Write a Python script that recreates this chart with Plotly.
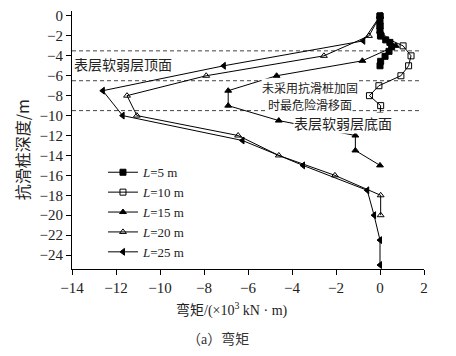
import plotly.graph_objects as go

# Depth (m) and bending moment (x10^3 kN·m) for each pile length
L5_depth = [0, -0.5, -1, -1.5, -2, -2.4, -2.65, -3.1, -3.55, -4.05, -4.55, -5]
L5_moment = [0, 0, 0, 0, 0.02, 0.26, 0.45, 0.53, 0.41, 0.23, 0.03, 0]

L10_depth = [0, -1, -2, -3, -4, -5, -6, -7, -8, -9, -10]
L10_moment = [0, 0, 0.05, 1.05, 1.41, 1.3, 0.95, -0.05, -0.48, 0.03, 0]

L15_depth = [0, -1.5, -3, -4.5, -6, -7.5, -9, -10.5, -12, -13.5, -15]
L15_moment = [0, 0, 0.72, -0.8, -4.7, -6.9, -6.9, -4.6, -1.12, -1.12, 0]

L20_depth = [0, -2, -4, -6, -8, -10, -12, -14, -16, -18, -20]
L20_moment = [0, -0.5, -2.55, -7.9, -11.5, -11.05, -6.45, -4.6, -2.05, 0.03, 0.03]

L25_depth = [0, -2.5, -5, -7.5, -10, -12.5, -15, -17.5, -20, -22.5, -25]
L25_moment = [0, -0.76, -7.1, -12.6, -11.7, -6.25, -3.5, -0.58, -0.27, 0, 0]

series_names = ["<i>L</i>=5 m", "<i>L</i>=10 m", "<i>L</i>=15 m", "<i>L</i>=20 m", "<i>L</i>=25 m"]
series_symbols = ["square", "square-open", "triangle-up", "triangle-up-open", "triangle-left"]

layer_depths = [-3.5, -6.5, -9.5]

x_ticks = [-14, -12, -10, -8, -6, -4, -2, 0, 2]
y_ticks = [0, -2, -4, -6, -8, -10, -12, -14, -16, -18, -20, -22, -24]

SERIF = "Liberation Serif, Times New Roman, serif"
CJK = "Noto Sans CJK SC"

fig = go.Figure()

# dashed layer boundaries
for d in layer_depths:
    fig.add_trace(go.Scatter(
        x=[-14, 1.9], y=[d, d], mode="lines",
        line=dict(color="#444", width=1, dash="4px,3px"),
        showlegend=False, hoverinfo="skip"))

data = [(L5_moment, L5_depth), (L10_moment, L10_depth), (L15_moment, L15_depth),
        (L20_moment, L20_depth), (L25_moment, L25_depth)]
for (xm, yd), name, sym in zip(data, series_names, series_symbols):
    fig.add_trace(go.Scatter(
        x=xm, y=yd, mode="lines+markers", name=name,
        line=dict(color="black", width=1),
        marker=dict(symbol=sym, size=6, color="black",
                    line=dict(color="black", width=1)),
    ))

annos = [
    dict(x=-13.95, y=-4.8, text="表层软弱层顶面", xanchor="left", size=14),
    dict(x=-3.2, y=-7.2, text="未采用抗滑桩加固", xanchor="center", size=12),
    dict(x=-3.2, y=-8.85, text="时最危险滑移面", xanchor="center", size=12),
    dict(x=-1.68, y=-10.75, text="表层软弱层底面", xanchor="center", size=14),
]
for a in annos:
    fig.add_annotation(x=a["x"], y=a["y"], xref="x", yref="y", text=a["text"],
                       xanchor=a["xanchor"], yanchor="middle", showarrow=False,
                       bgcolor="white", borderpad=0,
                       font=dict(family=CJK, size=a["size"], color="#222"))

# axis titles and caption
fig.add_annotation(x=-0.142, y=0.46, xref="paper", yref="paper",
                   text="抗滑桩深度/m", textangle=-90, showarrow=False,
                   xanchor="center", yanchor="middle",
                   font=dict(family=CJK, size=16, color="#222"))
fig.add_annotation(x=0.4545, y=-0.157, xref="paper", yref="paper",
                   text="弯矩/(×10<sup>3</sup> kN · m)", showarrow=False,
                   xanchor="center", yanchor="middle",
                   font=dict(family=SERIF + ", " + CJK, size=14, color="#222"))
fig.add_annotation(x=0.415, y=-0.272, xref="paper", yref="paper",
                   text="（a）弯矩", showarrow=False,
                   xanchor="center", yanchor="middle",
                   font=dict(family=SERIF + ", " + CJK, size=14, color="#333"))

fig.update_layout(
    width=448, height=348,
    margin=dict(l=64, r=32, t=0, b=87),
    paper_bgcolor="white", plot_bgcolor="white",
    font=dict(family=SERIF, size=14, color="#222"),
    legend=dict(x=0.088, y=0.433, xanchor="left", yanchor="top",
                bgcolor="rgba(0,0,0,0)", font=dict(family=SERIF, size=13),
                tracegroupgap=0, itemwidth=30),
    showlegend=True,
)
fig.update_xaxes(range=[-14, 2], tickvals=x_ticks,
                 ticktext=[f"−{abs(v)}" if v < 0 else str(v) for v in x_ticks],
                 showline=True, linecolor="black", linewidth=1,
                 ticks="outside", ticklen=5, tickcolor="black",
                 ticklabeloverflow="allow",
                 showgrid=False, zeroline=False, tickfont=dict(size=15))
fig.update_yaxes(range=[-25.4, 0.5], tickvals=y_ticks,
                 ticktext=[f"−{abs(v)}" if v < 0 else str(v) for v in y_ticks],
                 showline=True, linecolor="black", linewidth=1,
                 ticks="outside", ticklen=5, tickcolor="black",
                 ticklabeloverflow="allow",
                 showgrid=False, zeroline=False, tickfont=dict(size=15))

fig.write_html("out.html")
